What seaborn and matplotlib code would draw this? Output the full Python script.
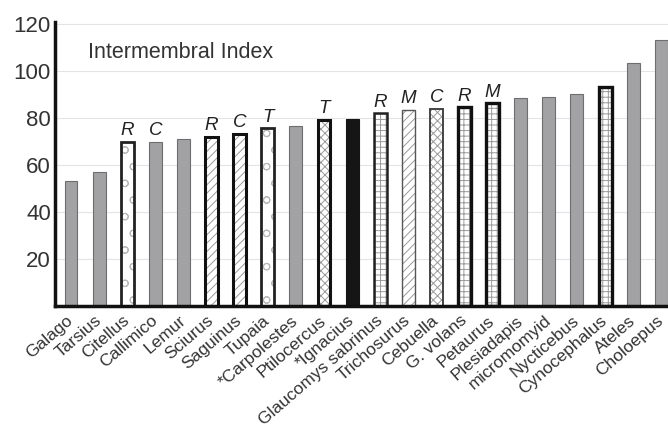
import matplotlib
matplotlib.use('Agg')
import matplotlib.pyplot as plt
import matplotlib.transforms as mtransforms
import seaborn as sns
import pandas as pd
from matplotlib.patches import Rectangle

# Intermembral index per taxon
species = ['Galago', 'Tarsius', 'Citellus', 'Callimico', 'Lemur', 'Sciurus',
           'Saguinus', 'Tupaia', '*Carpolestes', 'Ptilocercus', '*Ignacius',
           'Glaucomys sabrinus', 'Trichosurus', 'Cebuella', 'G. volans',
           'Petaurus', 'Plesiadapis', 'micromomyid', 'Nycticebus',
           'Cynocephalus', 'Ateles', 'Choloepus']
imi = [53.2, 57.1, 69.7, 69.8, 70.9, 71.9, 73.2, 75.6, 76.6, 79.1, 79.6,
       82.0, 83.4, 83.8, 84.5, 86.2, 88.4, 88.9, 90.1, 93.3, 103.5, 113.2]
# locomotor group letters above bars
loco = ['', '', 'R', 'C', '', 'R', 'C', 'T', '', 'T', '',
        'R', 'M', 'C', 'R', 'M', '', '', '', '', '', '']
# fill pattern group per bar
group = ['gray', 'gray', 'wave', 'gray', 'gray', 'diag', 'diag', 'wave', 'gray',
         'cross', 'black', 'key_med', 'diag_thin', 'cross_med', 'key', 'key',
         'gray', 'gray', 'gray', 'key', 'gray', 'gray']

# hatch, hatch colour, outline colour, outline width
patterns = {
    'wave': ('o', '#b8b8b8', '#222222', 2.0),
    'diag': ('////', '#9a9a9a', '#111111', 2.2),
    'diag_thin': ('////', '#9a9a9a', '#555555', 1.0),
    'cross': ('xxxx', '#9a9a9a', '#111111', 2.2),
    'cross_med': ('xxxx', '#9a9a9a', '#444444', 1.4),
    'key': ('+++', '#9a9a9a', '#111111', 2.4),
    'key_med': ('+++', '#9a9a9a', '#222222', 1.8),
}

sns.set_style('white')
plt.rcParams['font.family'] = ['Liberation Sans', 'DejaVu Sans']
plt.rcParams['hatch.linewidth'] = 0.7

fig = plt.figure(figsize=(6.68, 4.4), dpi=100)
ax = fig.add_axes([0.0823, 0.3045, 0.9177, 0.6462])

df = pd.DataFrame({'species': species, 'imi': imi})
sns.barplot(data=df, x='species', y='imi', color='#a2a2a5', width=0.46,
            saturation=1, ax=ax)

for patch, g, letter in zip(ax.patches, group, loco):
    x, y = patch.get_x(), patch.get_y()
    w, h = patch.get_width(), patch.get_height()
    if g == 'gray':
        patch.set_edgecolor('#6e6e70')
        patch.set_linewidth(0.8)
    elif g == 'black':
        patch.set_facecolor('#151515')
        patch.set_edgecolor('#151515')
        patch.set_linewidth(0.8)
    else:
        hatch, hc, ec, lw = patterns[g]
        patch.set_facecolor('white')
        patch.set_hatch(hatch)
        patch.set_edgecolor(hc)
        patch.set_linewidth(0)
        ax.add_patch(Rectangle((x, y), w, h, fill=False, edgecolor=ec,
                               linewidth=lw, zorder=patch.get_zorder() + 0.1))
    if letter:
        ax.text(x + w / 2, h + 1.2, letter, ha='center', va='bottom',
                fontsize=13.5, style='italic', color='#222222')

ax.set_xlim(-0.57, 21.24)
ax.set_ylim(0, 121)
ax.set_yticks([20, 40, 60, 80, 100, 120])
ax.tick_params(axis='y', labelsize=16, length=0, pad=3, labelcolor='#333333')
ax.tick_params(axis='x', length=0, pad=5)
ax.set_xticks(range(len(species)))
ax.set_xticklabels(species, rotation=41, ha='right', rotation_mode='anchor',
                   fontsize=12.5, color='#333333')
# nudge the rotated labels so they end under the bar centres
shift = mtransforms.ScaledTranslation(-0.05, 0, fig.dpi_scale_trans)
for lbl in ax.get_xticklabels():
    lbl.set_transform(lbl.get_transform() + shift)
ax.set_xlabel('')
ax.set_ylabel('')
ax.yaxis.grid(True, color='#e4e4e4', linewidth=0.8)
ax.set_axisbelow(True)

for side in ['top', 'right']:
    ax.spines[side].set_visible(False)
for side in ['left', 'bottom']:
    ax.spines[side].set_color('#111111')
    ax.spines[side].set_linewidth(2.5)

ax.text(0.054, 0.893, 'Intermembral Index', transform=ax.transAxes,
        ha='left', va='center', fontsize=15.5, color='#333333')

fig.savefig('out.png', dpi=100)
